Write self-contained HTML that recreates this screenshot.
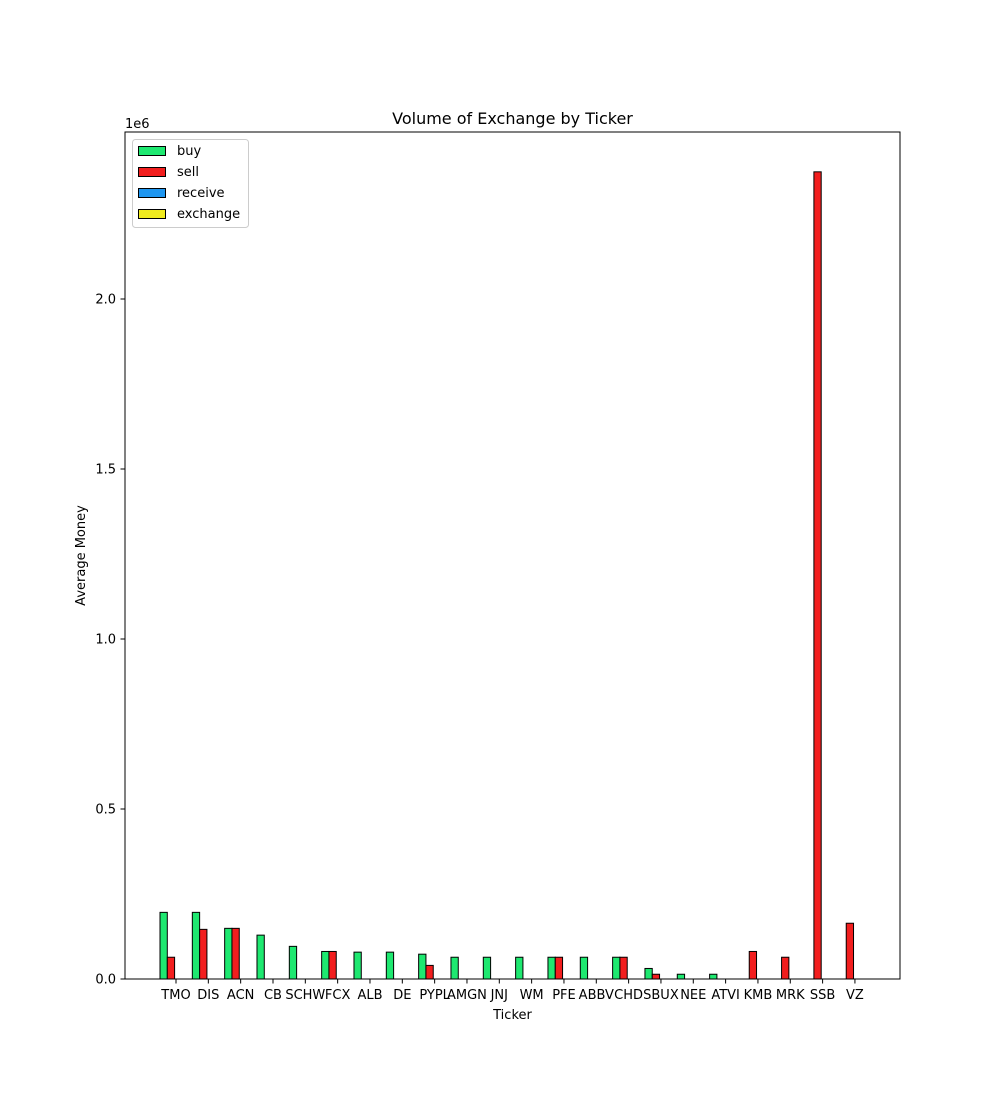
<!DOCTYPE html>
<html><head><meta charset="utf-8"><style>
body{margin:0;background:#fff;}
svg text{font-family:"DejaVu Sans","Liberation Sans",sans-serif;fill:#000;}
</style></head><body>
<svg id="chart" width="1000" height="1100" xmlns="http://www.w3.org/2000/svg">
<rect width="1000" height="1100" fill="#fff"/>
<text x="512.5" y="124" font-size="16" text-anchor="middle">Volume of Exchange by Ticker</text>
<text x="125" y="128" font-size="13">1e6</text>
<text x="512.5" y="1019" font-size="13" text-anchor="middle">Ticker</text>
<text x="85" y="555.5" font-size="13" text-anchor="middle" transform="rotate(-90 85 555.5)">Average Money</text>
<g id="bars"></g>
<g id="ticks"></g>
<rect x="125" y="132" width="775" height="847" fill="none" stroke="#000" stroke-width="1"/>
<g>
<rect x="132.5" y="139.5" width="116" height="88" rx="3" fill="#fff" stroke="#ccc"/>
<g><rect x="138.5" y="146.5" width="27" height="9" fill="#1ee870" stroke="#000"/><text x="177" y="155" font-size="13">buy</text></g>
<g><rect x="138.5" y="167.5" width="27" height="9" fill="#f21e1e" stroke="#000"/><text x="177" y="176" font-size="13">sell</text></g>
<g><rect x="138.5" y="188.5" width="27" height="9" fill="#1e96f0" stroke="#000"/><text x="177" y="197" font-size="13">receive</text></g>
<g><rect x="138.5" y="209.5" width="27" height="9" fill="#f0eb1e" stroke="#000"/><text x="177" y="218" font-size="13">exchange</text></g>
</g>
</svg>
<script>
const categories=["TMO","DIS","ACN","CB","SCHW","FCX","ALB","DE","PYPL","AMGN","JNJ","WM","PFE","ABBV","CHD","SBUX","NEE","ATVI","KMB","MRK","SSB","VZ"];
const buyValues=[0.196,0.196,0.149,0.129,0.096,0.081,0.079,0.079,0.073,0.064,0.064,0.064,0.064,0.064,0.064,0.031,0.014,0.014,0,0,0,0];
const sellValues=[0.064,0.146,0.149,0,0,0.081,0,0,0.040,0,0,0,0.064,0,0.064,0.014,0,0,0.081,0.064,2.374,0.164];
const receiveValues=[0,0,0,0,0,0,0,0,0,0,0,0,0,0,0,0,0,0,0,0,0,0];
const exchangeValues=[0,0,0,0,0,0,0,0,0,0,0,0,0,0,0,0,0,0,0,0,0,0];
const yTicks=[0,0.5,1.0,1.5,2.0];
const yTickLabels=["0.0","0.5","1.0","1.5","2.0"];

const NS="http://www.w3.org/2000/svg";
const x0=176, step=32.33, bw=7.3;
function xPos(i){return x0+i*step;}
function yPos(v){return 979-v*340;}
const series=[[buyValues,"#1ee870","buy"],[sellValues,"#f21e1e","sell"],[receiveValues,"#1e96f0","receive"],[exchangeValues,"#f0eb1e","exchange"]];
const bars=document.getElementById("bars"), ticks=document.getElementById("ticks");
series.forEach(([vals,col,nm],s)=>{
  vals.forEach((v,i)=>{
    const r=document.createElementNS(NS,"rect");
    const left=xPos(i)-16+s*bw, top=yPos(v);
    r.setAttribute("x",left);r.setAttribute("y",top);
    r.setAttribute("width",bw);r.setAttribute("height",Math.max(0,979-top));
    r.setAttribute("fill",col);r.setAttribute("stroke","#000");r.setAttribute("stroke-width","1");
    
    
    bars.appendChild(r);
  });
});
categories.forEach((c,i)=>{
  const l=document.createElementNS(NS,"line");
  l.setAttribute("x1",xPos(i));l.setAttribute("x2",xPos(i));l.setAttribute("y1",979);l.setAttribute("y2",983.5);l.setAttribute("stroke","#000");
  
  
  ticks.appendChild(l);
  const t=document.createElementNS(NS,"text");
  t.setAttribute("x",xPos(i));t.setAttribute("y",999);t.setAttribute("font-size","13");t.setAttribute("text-anchor","middle");
  t.textContent=c;
  
  
  ticks.appendChild(t);
});
yTicks.forEach((v,i)=>{
  const l=document.createElementNS(NS,"line");
  l.setAttribute("x1",120.5);l.setAttribute("x2",125);l.setAttribute("y1",yPos(v));l.setAttribute("y2",yPos(v));l.setAttribute("stroke","#000");
  
  
  ticks.appendChild(l);
  const t=document.createElementNS(NS,"text");
  t.setAttribute("x",116);t.setAttribute("y",yPos(v)+4.5);t.setAttribute("font-size","13");t.setAttribute("text-anchor","end");
  t.textContent=yTickLabels[i];
  
  
  ticks.appendChild(t);
});
</script>
</body></html>
